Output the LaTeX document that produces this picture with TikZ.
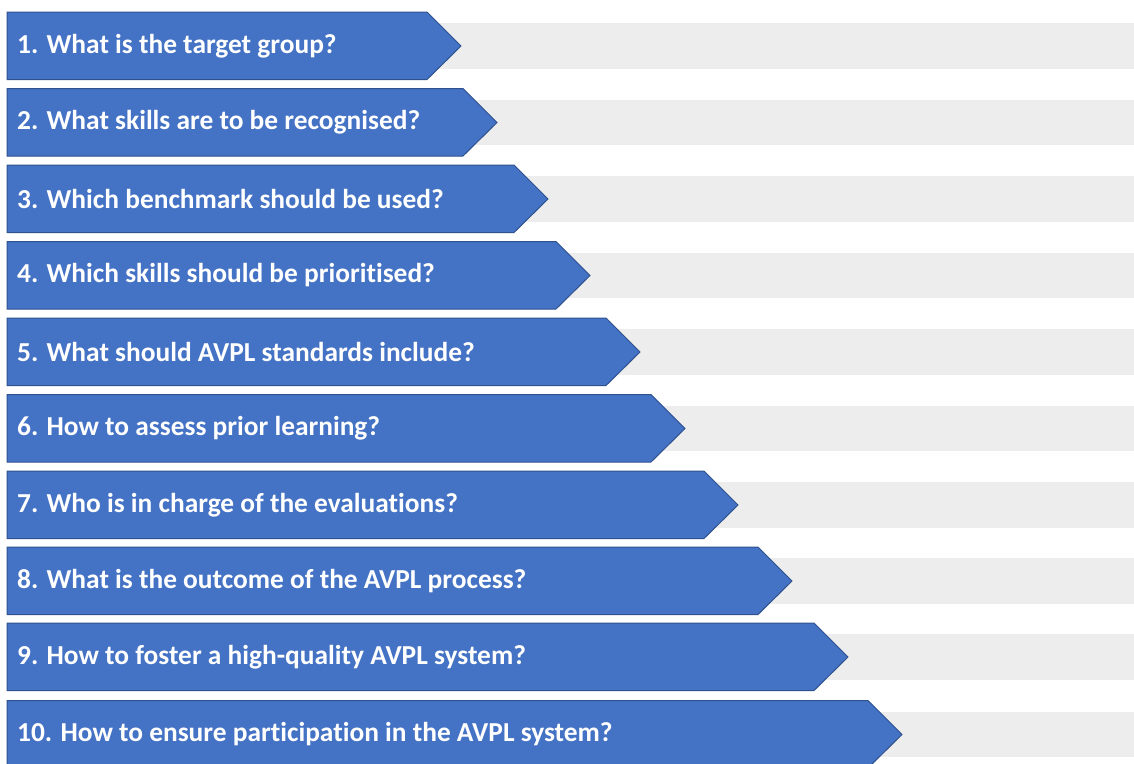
\documentclass[tikz,border=0pt]{standalone}
\usepackage{fontspec}
\setmainfont{Carlito}[Ligatures={NoCommon}]
\definecolor{bandgray}{HTML}{EDEDED}
\definecolor{boxblue}{HTML}{4472C4}
\definecolor{edgeblue}{HTML}{2F528F}
\begin{document}
\begin{tikzpicture}[x=1pt,y=-1pt,
  band/.style={fill=bandgray,draw=none},
  chevron/.style={fill=boxblue,draw=edgeblue,line width=1pt,line join=miter},
  qtext/.style={anchor=west,text=white,font=\fontsize{27.4}{30}\selectfont\bfseries,inner sep=0pt}]
\useasboundingbox (0,0) rectangle (1134,763);
\clip (0,0) rectangle (1134,763);
\fill[white] (0,0) rectangle (1134,763);
\foreach \i/\top/\tip/\txt in {
  1/12/461/{1. What is the target group?},
  2/88.5/497/{2. What skills are to be recognised?},
  3/165/548/{3. Which benchmark should be used?},
  4/241.5/590/{4. Which skills should be prioritised?},
  5/318/640/{5. What should AVPL standards include?},
  6/394.5/685/{6. How to assess prior learning?},
  7/471/738/{7. Who is in charge of the evaluations?},
  8/547/792/{8. What is the outcome of the AVPL process?},
  9/623/848/{9. How to foster a high-quality AVPL system?},
  10/700.5/902/{10. How to ensure participation in the AVPL system?}}{
  \fill[band] (7,\top+11) rectangle (1134,\top+56.5);
  \draw[chevron] (7,\top) -- (\tip-34,\top) -- (\tip,\top+34) -- (\tip-34,\top+67.5) -- (7,\top+67.5) -- cycle;
  \node[qtext] (q\i) at (17,\top+34) {\txt};
}
\end{tikzpicture}
\end{document}
